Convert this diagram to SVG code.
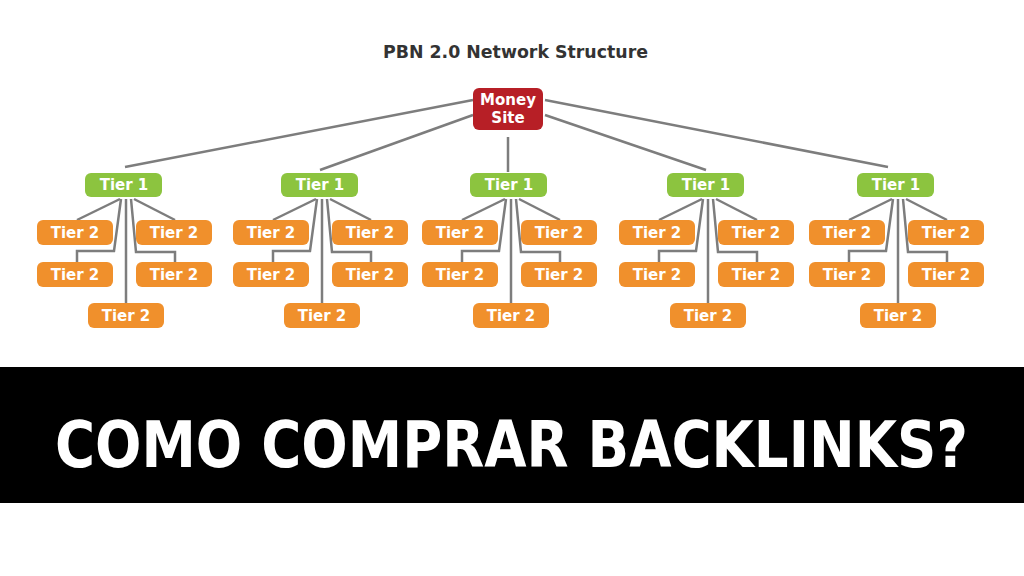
<svg xmlns="http://www.w3.org/2000/svg" width="1024" height="576" viewBox="0 0 1024 576">
<style>
.t1{fill:#8cc43f}
.t2{fill:#f0902c}
.ms{fill:#b71f26}
.lbl{font-family:"DejaVu Sans",Verdana,sans-serif;font-weight:bold;font-size:15px;fill:#fff;text-anchor:middle}
.ln{fill:none;stroke:#7d7d7d;stroke-width:2.5}
</style>
<defs>
<g id="cl">
<path d="M-4,199 L-47,220"/>
<path d="M10,199 L51,220"/>
<path d="M-3,199 L-10,251 L-47,251 L-47,262"/>
<path d="M7,199 L12,252 L51,252 L51,262"/>
<path d="M2,199 L2,303"/>
</g>
</defs>
<rect width="1024" height="576" fill="#fff"/>
<text x="515.5" y="58" font-family="DejaVu Sans,Verdana,sans-serif" font-weight="bold" font-size="18" fill="#333" text-anchor="middle" textLength="265" lengthAdjust="spacingAndGlyphs">PBN 2.0 Network Structure</text>

<g id="connectors" class="ln">
<path d="M473,100 L125,167"/>
<path d="M473,115 L320,170"/>
<path d="M508,137 L508,172"/>
<path d="M545,115 L706,170"/>
<path d="M545,100 L888,167"/>
<use href="#cl" x="124"/>
<use href="#cl" x="320"/>
<use href="#cl" x="509"/>
<use href="#cl" x="706"/>
<use href="#cl" x="896"/>
</g>

<g id="money-site">
<rect class="ms" x="473" y="88" width="70" height="42" rx="6"/>
<text class="lbl" x="508" y="105">Money</text>
<text class="lbl" x="508" y="123">Site</text>
</g>

<g id="g1" transform="translate(124,0)">
<g id="g1-tier1"><rect class="t1" x="-39" y="173" width="77" height="24" rx="6"/><text class="lbl" x="0" y="190">Tier 1</text></g>
<g id="g1-t2a"><rect class="t2" x="-87" y="220" width="76" height="25" rx="6"/><text class="lbl" x="-49" y="238">Tier 2</text></g>
<g id="g1-t2b"><rect class="t2" x="12" y="220" width="76" height="25" rx="6"/><text class="lbl" x="50" y="238">Tier 2</text></g>
<g id="g1-t2c"><rect class="t2" x="-87" y="262" width="76" height="25" rx="6"/><text class="lbl" x="-49" y="280">Tier 2</text></g>
<g id="g1-t2d"><rect class="t2" x="12" y="262" width="76" height="25" rx="6"/><text class="lbl" x="50" y="280">Tier 2</text></g>
<g id="g1-t2e"><rect class="t2" x="-36" y="303" width="76" height="25" rx="6"/><text class="lbl" x="2" y="321">Tier 2</text></g>
</g>
<g id="g2" transform="translate(320,0)">
<g id="g2-tier1"><rect class="t1" x="-39" y="173" width="77" height="24" rx="6"/><text class="lbl" x="0" y="190">Tier 1</text></g>
<g id="g2-t2a"><rect class="t2" x="-87" y="220" width="76" height="25" rx="6"/><text class="lbl" x="-49" y="238">Tier 2</text></g>
<g id="g2-t2b"><rect class="t2" x="12" y="220" width="76" height="25" rx="6"/><text class="lbl" x="50" y="238">Tier 2</text></g>
<g id="g2-t2c"><rect class="t2" x="-87" y="262" width="76" height="25" rx="6"/><text class="lbl" x="-49" y="280">Tier 2</text></g>
<g id="g2-t2d"><rect class="t2" x="12" y="262" width="76" height="25" rx="6"/><text class="lbl" x="50" y="280">Tier 2</text></g>
<g id="g2-t2e"><rect class="t2" x="-36" y="303" width="76" height="25" rx="6"/><text class="lbl" x="2" y="321">Tier 2</text></g>
</g>
<g id="g3" transform="translate(509,0)">
<g id="g3-tier1"><rect class="t1" x="-39" y="173" width="77" height="24" rx="6"/><text class="lbl" x="0" y="190">Tier 1</text></g>
<g id="g3-t2a"><rect class="t2" x="-87" y="220" width="76" height="25" rx="6"/><text class="lbl" x="-49" y="238">Tier 2</text></g>
<g id="g3-t2b"><rect class="t2" x="12" y="220" width="76" height="25" rx="6"/><text class="lbl" x="50" y="238">Tier 2</text></g>
<g id="g3-t2c"><rect class="t2" x="-87" y="262" width="76" height="25" rx="6"/><text class="lbl" x="-49" y="280">Tier 2</text></g>
<g id="g3-t2d"><rect class="t2" x="12" y="262" width="76" height="25" rx="6"/><text class="lbl" x="50" y="280">Tier 2</text></g>
<g id="g3-t2e"><rect class="t2" x="-36" y="303" width="76" height="25" rx="6"/><text class="lbl" x="2" y="321">Tier 2</text></g>
</g>
<g id="g4" transform="translate(706,0)">
<g id="g4-tier1"><rect class="t1" x="-39" y="173" width="77" height="24" rx="6"/><text class="lbl" x="0" y="190">Tier 1</text></g>
<g id="g4-t2a"><rect class="t2" x="-87" y="220" width="76" height="25" rx="6"/><text class="lbl" x="-49" y="238">Tier 2</text></g>
<g id="g4-t2b"><rect class="t2" x="12" y="220" width="76" height="25" rx="6"/><text class="lbl" x="50" y="238">Tier 2</text></g>
<g id="g4-t2c"><rect class="t2" x="-87" y="262" width="76" height="25" rx="6"/><text class="lbl" x="-49" y="280">Tier 2</text></g>
<g id="g4-t2d"><rect class="t2" x="12" y="262" width="76" height="25" rx="6"/><text class="lbl" x="50" y="280">Tier 2</text></g>
<g id="g4-t2e"><rect class="t2" x="-36" y="303" width="76" height="25" rx="6"/><text class="lbl" x="2" y="321">Tier 2</text></g>
</g>
<g id="g5" transform="translate(896,0)">
<g id="g5-tier1"><rect class="t1" x="-39" y="173" width="77" height="24" rx="6"/><text class="lbl" x="0" y="190">Tier 1</text></g>
<g id="g5-t2a"><rect class="t2" x="-87" y="220" width="76" height="25" rx="6"/><text class="lbl" x="-49" y="238">Tier 2</text></g>
<g id="g5-t2b"><rect class="t2" x="12" y="220" width="76" height="25" rx="6"/><text class="lbl" x="50" y="238">Tier 2</text></g>
<g id="g5-t2c"><rect class="t2" x="-87" y="262" width="76" height="25" rx="6"/><text class="lbl" x="-49" y="280">Tier 2</text></g>
<g id="g5-t2d"><rect class="t2" x="12" y="262" width="76" height="25" rx="6"/><text class="lbl" x="50" y="280">Tier 2</text></g>
<g id="g5-t2e"><rect class="t2" x="-36" y="303" width="76" height="25" rx="6"/><text class="lbl" x="2" y="321">Tier 2</text></g>
</g>

<rect x="0" y="367" width="1024" height="136" fill="#000"/>
<text x="55" y="467" font-family="DejaVu Sans Condensed,DejaVu Sans,sans-serif" font-weight="bold" font-size="64" fill="#fff" textLength="913" lengthAdjust="spacingAndGlyphs">COMO COMPRAR BACKLINKS?</text>
</svg>
